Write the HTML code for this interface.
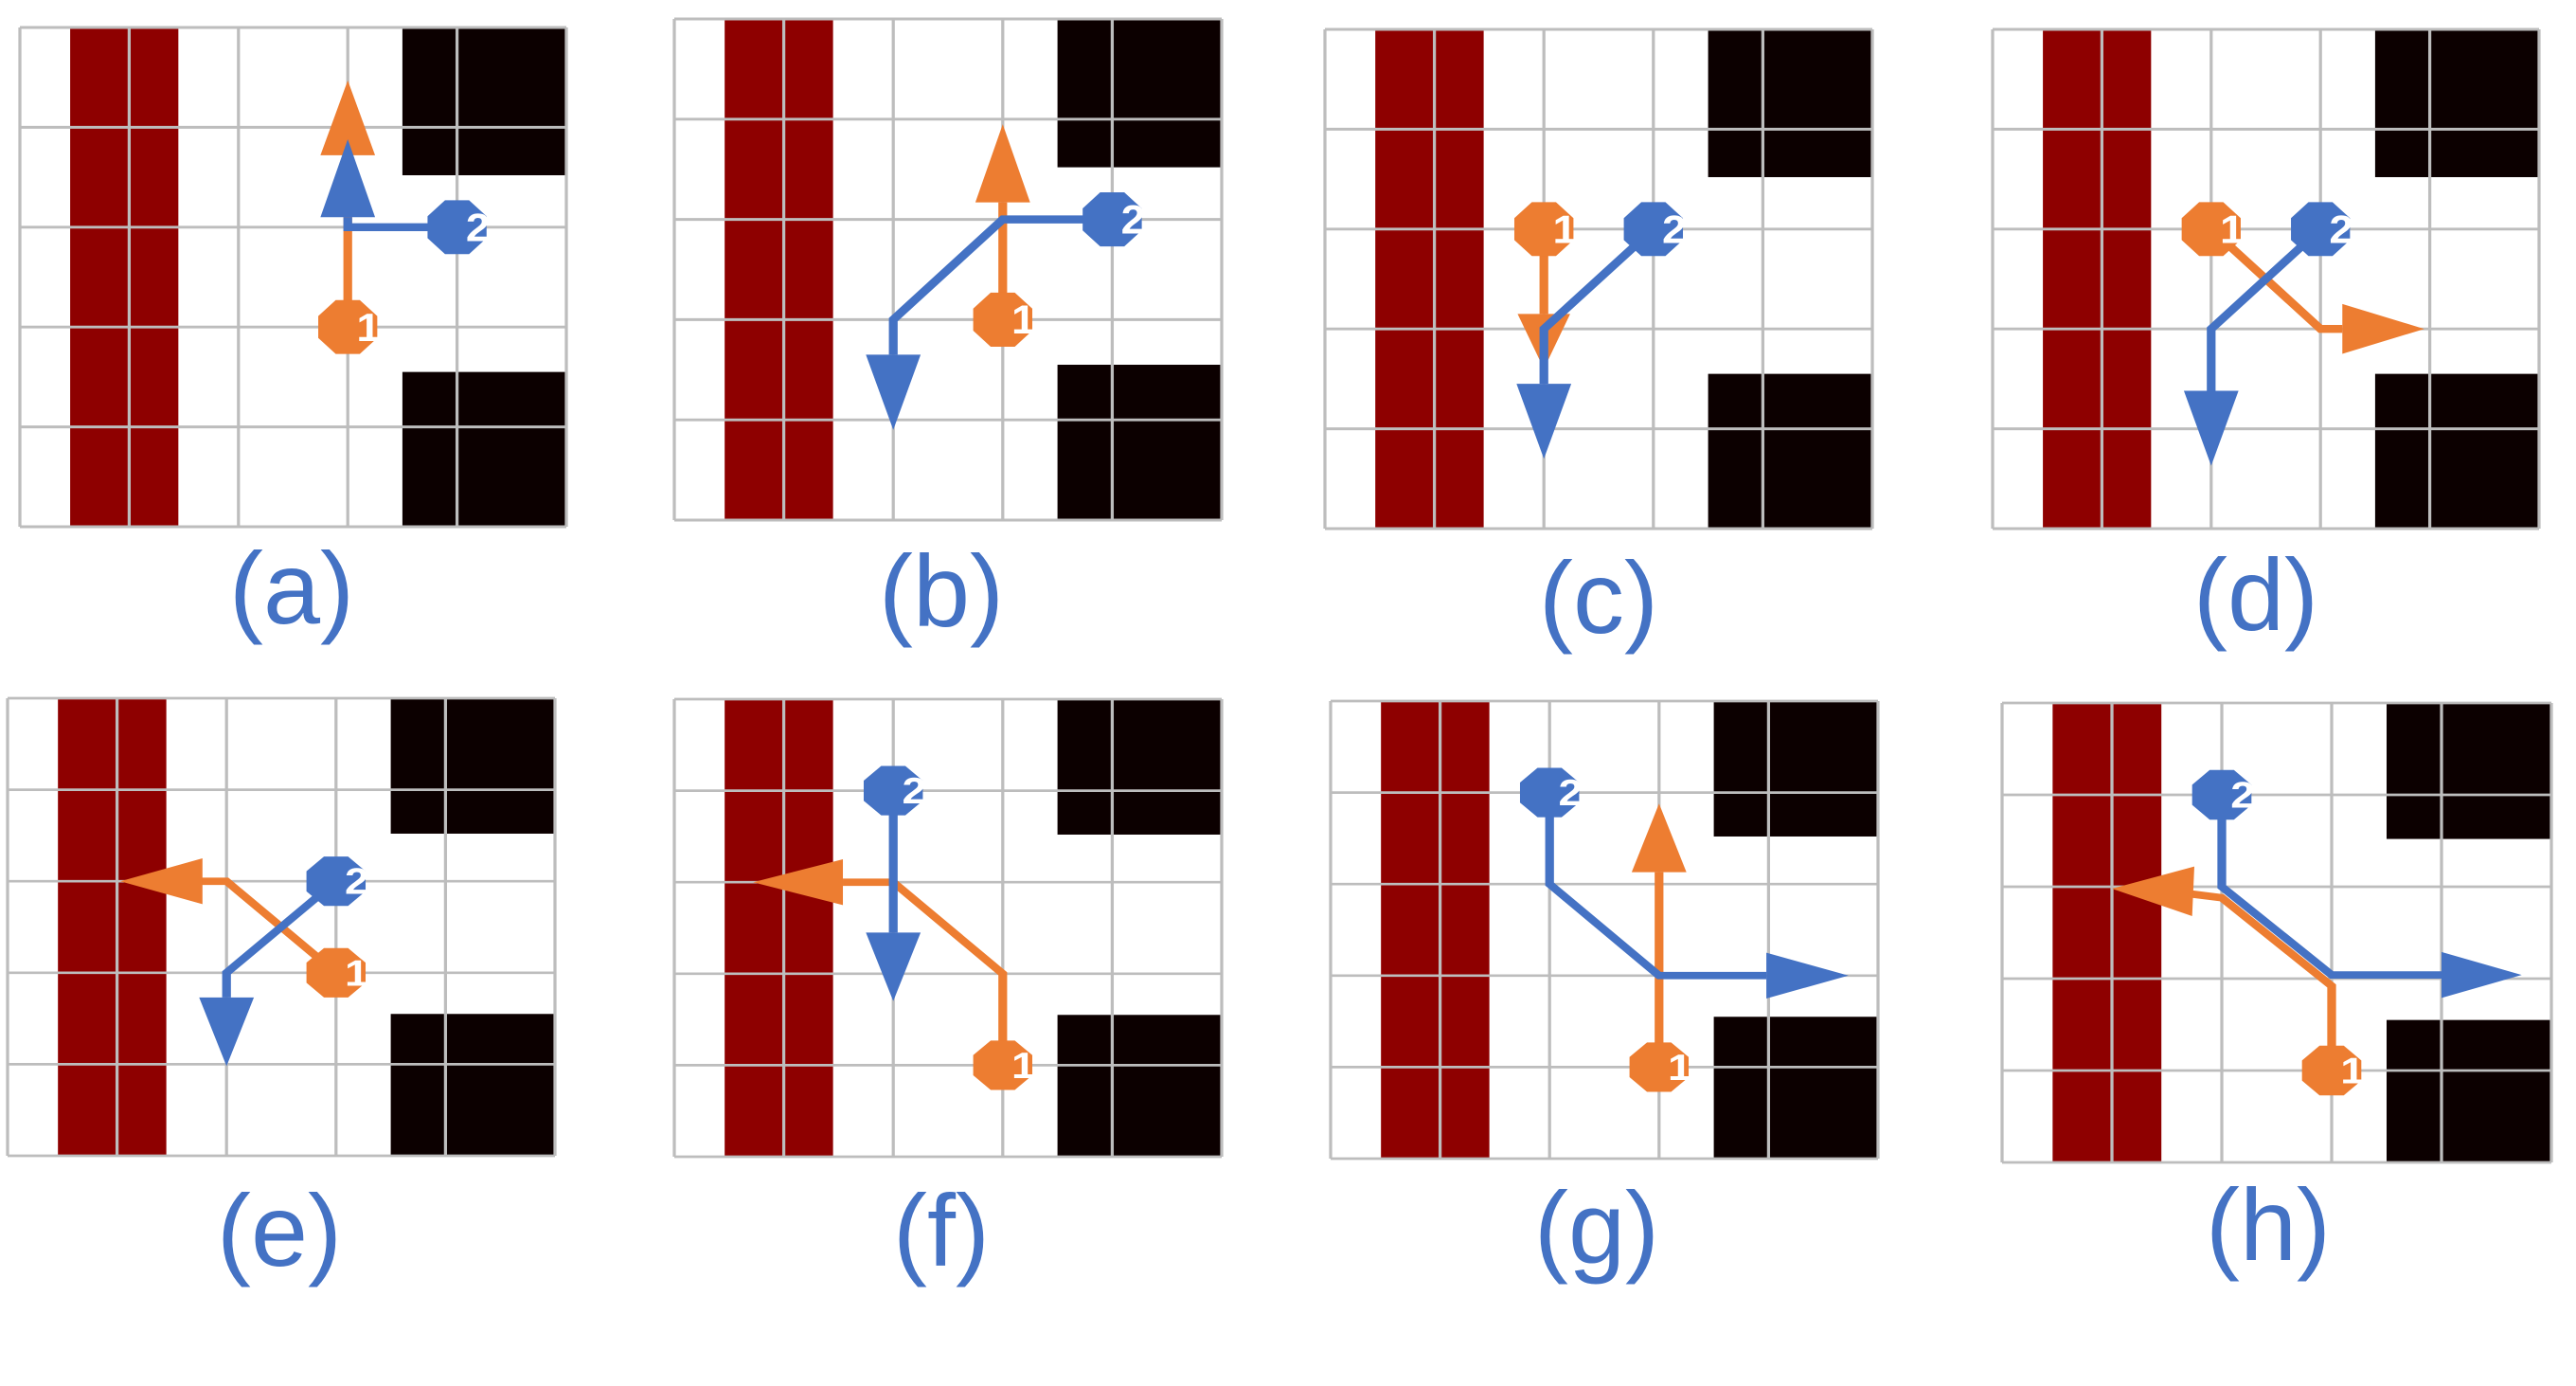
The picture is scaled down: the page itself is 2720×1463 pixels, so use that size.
<!DOCTYPE html>
<html><head><meta charset="utf-8"><style>html,body{margin:0;padding:0;background:#fff}svg{display:block}</style></head>
<body>
<svg xmlns="http://www.w3.org/2000/svg" width="2720" height="1463" viewBox="0 0 2720 1463">
<defs>
<g id="bg">
<rect x="0" y="0" width="500" height="500" fill="#fff"/>
<rect x="46" y="0" width="99" height="500" fill="#8e0000"/>
<rect x="350" y="0" width="150" height="148" fill="#0c0000"/>
<rect x="350" y="345" width="150" height="155" fill="#0c0000"/>
<g stroke="#bdbdbd" stroke-width="2.8">
<line x1="0" y1="0" x2="500" y2="0"/><line x1="0" y1="100" x2="500" y2="100"/><line x1="0" y1="200" x2="500" y2="200"/><line x1="0" y1="300" x2="500" y2="300"/><line x1="0" y1="400" x2="500" y2="400"/><line x1="0" y1="500" x2="500" y2="500"/>
<line x1="0" y1="0" x2="0" y2="500"/><line x1="100" y1="0" x2="100" y2="500"/><line x1="200" y1="0" x2="200" y2="500"/><line x1="300" y1="0" x2="300" y2="500"/><line x1="400" y1="0" x2="400" y2="500"/><line x1="500" y1="0" x2="500" y2="500"/>
</g>
</g>
<polygon id="oct" points="27,11 11,27 -11,27 -27,11 -27,-11 -11,-27 11,-27 27,-11"/>
</defs>
<style>
.o{stroke:#ed7d31;stroke-width:8;fill:none;stroke-linejoin:miter}
.b{stroke:#4472c4;stroke-width:8;fill:none;stroke-linejoin:miter}
.of{fill:#ed7d31}.bf{fill:#4472c4}
.d{fill:#fff;font-family:"Liberation Sans",sans-serif;font-weight:bold;font-size:40px}
.lab{fill:#4472c4;font-family:"Liberation Sans",sans-serif;font-size:108px;text-anchor:middle}
</style>

<!-- (a) -->
<svg x="21" y="29" width="577" height="527" viewBox="0 0 500 500" preserveAspectRatio="none" overflow="visible">
<use href="#bg"/>
<path class="o" d="M300,300 V128"/><polygon class="of" points="300,53 275,128 325,128"/>
<path class="b" d="M400,200 H300 V190"/><polygon class="bf" points="300,112 275,190 325,190"/>
<use href="#oct" x="300" y="300" class="of"/><text class="d" x="308" y="314">1</text>
<use href="#oct" x="400" y="200" class="bf"/><text class="d" x="408" y="214">2</text>
</svg>
<!-- (b) -->
<svg x="712" y="20" width="578" height="529" viewBox="0 0 500 500" preserveAspectRatio="none" overflow="visible">
<use href="#bg"/>
<path class="o" d="M300,300 V183"/><polygon class="of" points="300,105 275,183 325,183"/>
<path class="b" d="M400,200 H300 L200,300 V335"/><polygon class="bf" points="200,410 175,335 225,335"/>
<use href="#oct" x="300" y="300" class="of"/><text class="d" x="308" y="314">1</text>
<use href="#oct" x="400" y="200" class="bf"/><text class="d" x="408" y="214">2</text>
</svg>
<!-- (c) -->
<svg x="1399" y="31" width="578" height="527" viewBox="0 0 500 500" preserveAspectRatio="none" overflow="visible">
<use href="#bg"/>
<path class="o" d="M200,200 V285"/><polygon class="of" points="200,340 176,285 224,285"/>
<path class="b" d="M300,200 L200,300 V355"/><polygon class="bf" points="200,430 175,355 225,355"/>
<use href="#oct" x="200" y="200" class="of"/><text class="d" x="208" y="214">1</text>
<use href="#oct" x="300" y="200" class="bf"/><text class="d" x="308" y="214">2</text>
</svg>
<!-- (d) -->
<svg x="2104" y="31" width="577" height="527" viewBox="0 0 500 500" preserveAspectRatio="none" overflow="visible">
<use href="#bg"/>
<path class="o" d="M200,200 L300,300 H320"/><polygon class="of" points="395,300 320,275 320,325"/>
<path class="b" d="M300,200 L200,300 V362"/><polygon class="bf" points="200,437 175,362 225,362"/>
<use href="#oct" x="200" y="200" class="of"/><text class="d" x="208" y="214">1</text>
<use href="#oct" x="300" y="200" class="bf"/><text class="d" x="308" y="214">2</text>
</svg>
<!-- (e) -->
<svg x="8" y="737" width="578" height="483" viewBox="0 0 500 500" preserveAspectRatio="none" overflow="visible">
<use href="#bg"/>
<path class="o" d="M300,300 L200,200 H177"/><polygon class="of" points="103,200 178,175 178,225"/>
<path class="b" d="M300,200 L200,300 V327"/><polygon class="bf" points="200,402 175,327 225,327"/>
<use href="#oct" x="300" y="300" class="of"/><text class="d" x="308" y="314">1</text>
<use href="#oct" x="300" y="200" class="bf"/><text class="d" x="308" y="214">2</text>
</svg>
<!-- (f) -->
<svg x="712" y="738" width="578" height="483" viewBox="0 0 500 500" preserveAspectRatio="none" overflow="visible">
<use href="#bg"/>
<path class="o" d="M300,400 V300 L200,200 H154"/><polygon class="of" points="72,200 154,175 154,225"/>
<path class="b" d="M200,100 V255"/><polygon class="bf" points="200,330 175,255 225,255"/>
<use href="#oct" x="300" y="400" class="of"/><text class="d" x="308" y="414">1</text>
<use href="#oct" x="200" y="100" class="bf"/><text class="d" x="208" y="114">2</text>
</svg>
<!-- (g) -->
<svg x="1405" y="740" width="578" height="483" viewBox="0 0 500 500" preserveAspectRatio="none" overflow="visible">
<use href="#bg"/>
<path class="o" d="M300,400 V187"/><polygon class="of" points="300,112 275,187 325,187"/>
<path class="b" d="M200,100 V200 L300,300 H398"/><polygon class="bf" points="473,300 398,275 398,325"/>
<use href="#oct" x="300" y="400" class="of"/><text class="d" x="308" y="414">1</text>
<use href="#oct" x="200" y="100" class="bf"/><text class="d" x="208" y="114">2</text>
</svg>
<!-- (h) -->
<svg x="2114" y="742" width="580" height="485" viewBox="0 0 500 500" preserveAspectRatio="none" overflow="visible">
<use href="#bg"/>
<path class="o" d="M300,400 V308 L200,212 L173,208"/><polygon class="of" points="100,202 175,178 173,232"/>
<path class="b" d="M200,100 V200 L300,296 H400"/><polygon class="bf" points="473,296 400,271 400,321"/>
<use href="#oct" x="300" y="400" class="of"/><text class="d" x="308" y="414">1</text>
<use href="#oct" x="200" y="100" class="bf"/><text class="d" x="208" y="114">2</text>
</svg>

<text class="lab" x="308" y="658">(a)</text>
<text class="lab" x="994" y="661">(b)</text>
<text class="lab" x="1688" y="668">(c)</text>
<text class="lab" x="2382" y="665">(d)</text>
<text class="lab" x="295" y="1336">(e)</text>
<text class="lab" x="994" y="1336">(f)</text>
<text class="lab" x="1686" y="1333">(g)</text>
<text class="lab" x="2395" y="1330">(h)</text>
</svg>
</body></html>
